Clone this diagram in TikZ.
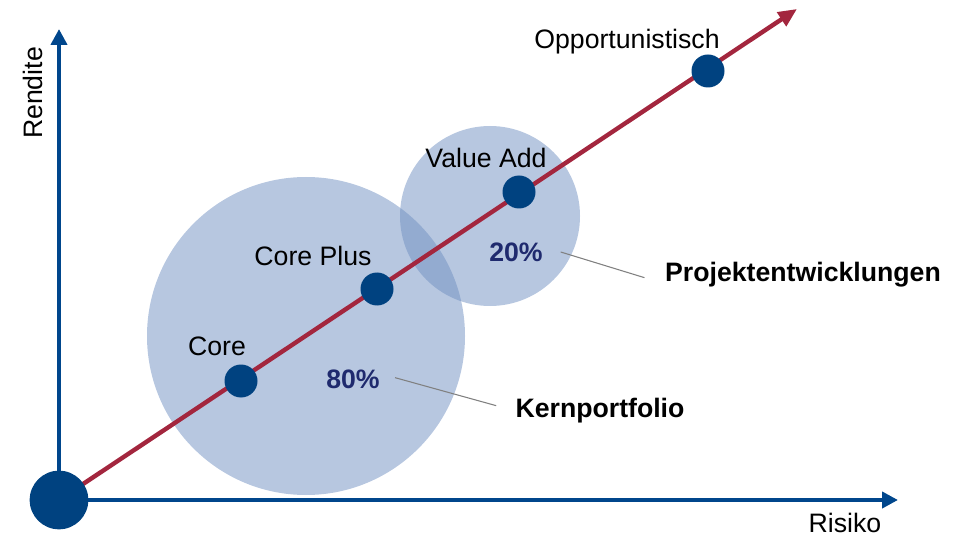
\documentclass[tikz,border=0pt]{standalone}
\usepackage{fontspec}
\setmainfont{Liberation Sans}
\usepackage{xcolor}
\usetikzlibrary{arrows.meta,positioning}

\definecolor{axisblue}{RGB}{0,70,140}
\definecolor{dotblue}{RGB}{0,66,128}
\definecolor{linered}{RGB}{163,38,62}
\definecolor{bubble}{RGB}{111,143,193}
\definecolor{pctblue}{RGB}{31,42,110}

\begin{document}
\begin{tikzpicture}[x=0.75pt,y=-0.75pt,
  label/.style={font=\fontsize{20}{24}\selectfont},
  boldlabel/.style={font=\fontsize{20}{24}\selectfont\bfseries},
  pct/.style={font=\fontsize{20}{24}\selectfont\bfseries,text=pctblue},
  dot/.style={circle,fill=dotblue,inner sep=0pt,minimum size=24.75pt},
  leader/.style={gray,line width=0.8pt}]
\useasboundingbox (0,0) rectangle (967,538);

% BUBBLES
  \fill[bubble,opacity=.5] (306,336) circle[radius=119.25pt];
  \fill[bubble,opacity=.5] (490,216) circle[radius=67.5pt];

% AXES
  \coordinate (origin) at (59,500);
  \coordinate (ytip) at (59,29);
  \coordinate (xtip) at (898,500);
  \draw[axisblue, line width=3pt, -{Triangle[length=12pt,width=12pt]}] (origin) -- (ytip);
  \draw[axisblue, line width=3pt, -{Triangle[length=12pt,width=12pt]}] (origin) -- (xtip);
  \node[label,rotate=90] (rendite) at (33,93) {Rendite};
  \node[label] (risiko) at (845,523) {Risiko};

% RISK-RETURN LINE
  \coordinate (rtip) at (797,9);
  \draw[linered, line width=3.3pt, -{Triangle[length=14pt,width=12pt]}] (origin) -- (rtip);

% STRATEGIES
  \node[dot,minimum size=44pt] (start) at (origin) {};
  \foreach \name/\x/\y in {core/241/381, coreplus/377/289, valueadd/519/192, opport/708/71}
      \node[dot] (\name) at (\x,\y) {};
  \node[label] (corelbl) at (217,346) {Core};
  \node[label] (corepluslbl) at (313,256) {Core Plus};
  \node[label] (valueaddlbl) at (486,158) {Value Add};
  \node[label] (opportlbl) at (627,42) {Opportunistisch};

% SHARES
  \node[pct] (pct80) at (353,379) {80\%};
  \node[pct] (pct20) at (516,252) {20\%};
  \node[boldlabel] (kern) at (600,411) {Kernportfolio};
  \node[boldlabel] (projekt) at (803,275) {Projektentwicklungen};
  \draw[leader] ([xshift=8pt,yshift=1pt]pct80.east) -- ([xshift=-11pt,yshift=4pt]kern.west);
  \draw[leader] ([xshift=10pt]pct20.east) -- ([xshift=-12pt,yshift=-2pt]projekt.west);

\end{tikzpicture}
\end{document}
